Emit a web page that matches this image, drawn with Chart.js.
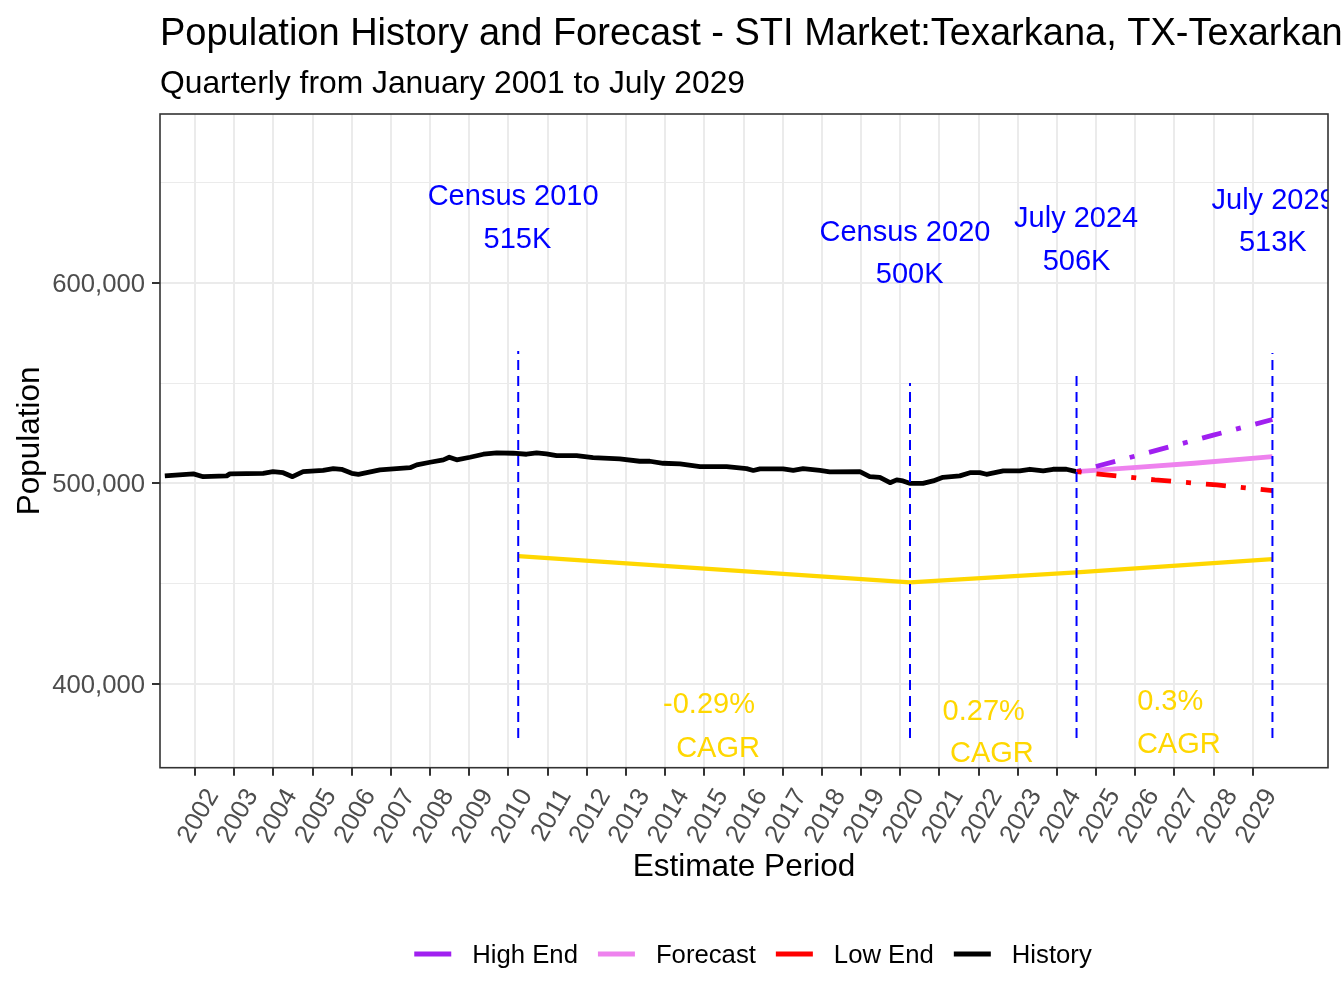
<!DOCTYPE html>
<html>
<head>
<meta charset="utf-8">
<title>Population History and Forecast</title>
<script src="https://cdn.jsdelivr.net/npm/chart.js@4.4.1/dist/chart.umd.min.js"></script>
<style>
  html, body { margin: 0; padding: 0; background: #ffffff; }
  #wrap { width: 1344px; height: 1008px; position: relative; }
</style>
</head>
<body>
<div id="wrap"><canvas id="chart"></canvas></div>
<script>
const titleText = "Population History and Forecast - STI Market:Texarkana, TX-Texarkana, AR";
const subtitleText = "Quarterly from January 2001 to July 2029";
const xAxisTitle = "Estimate Period";
const yAxisTitle = "Population";

// history (decimal year, persons)
const historyYears = [
    2001.23, 2001.96, 2002.21, 2002.81, 2002.89, 2003.74, 2003.99, 2004.25, 2004.49, 2004.76,
    2005.27, 2005.53, 2005.74, 2006.00, 2006.17, 2006.72, 2007.06, 2007.49, 2007.66, 2008.00,
    2008.34, 2008.49, 2008.68, 2009.02, 2009.36, 2009.70, 2010.12, 2010.46, 2010.72, 2010.97,
    2011.23, 2011.74, 2012.16, 2012.84, 2013.35, 2013.61, 2013.95, 2014.38, 2014.89, 2015.57,
    2016.08, 2016.25, 2016.42, 2017.01, 2017.27, 2017.52, 2017.95, 2018.20, 2018.97, 2019.22,
    2019.48, 2019.74, 2019.91, 2020.07, 2020.24, 2020.58, 2020.84, 2021.09, 2021.52, 2021.78,
    2022.03, 2022.20, 2022.63, 2023.05, 2023.31, 2023.65, 2023.90, 2024.24, 2024.50
];
const historyValues = [
    503700, 504700, 503300, 503700, 504700, 505000, 505800, 505300, 503300, 505800,
    506400, 507300, 507000, 505000, 504500, 506700, 507200, 507800, 509200, 510500,
    511700, 513000, 511700, 513000, 514500, 515200, 515000, 514500, 515200, 514700,
    513800, 513800, 512800, 512200, 511000, 511000, 510000, 509700, 508300, 508300,
    507300, 506400, 507200, 507200, 506400, 507300, 506400, 505700, 505800, 503300,
    503000, 500300, 501700, 501200, 500000, 500000, 501200, 503000, 503700, 505300,
    505300, 504500, 506200, 506200, 507000, 506200, 507000, 507000, 505800
];

const forecastYears = [2024.5, 2026.03, 2027.5, 2029.5];
const forecastValues = [505800, 507900, 510000, 513300];
const highEndYears = [2024.5, 2026.63, 2027.99, 2029.5];
const highEndValues = [505800, 516900, 524000, 531800];
const lowEndYears = [2024.5, 2026.5, 2028.08, 2029.5];
const lowEndValues = [505800, 501700, 499200, 496400];

const cagrLineYears = [2010.25, 2020.25, 2024.5, 2029.5];
const cagrLineValues = [463700, 450600, 455600, 462200];

// blue reference markers
const markerYears = [2010.25, 2020.25, 2024.5, 2029.5];
const markerTops = [566000, 550000, 556500, 565000];
const markerBottom = 373000;
const markerTitles = ["Census 2010", "Census 2020", "July 2024", "July 2029"];
const markerTitleX = [2010.12, 2020.12, 2024.49, 2029.53];
const markerTitleY = [643800, 625800, 632800, 641800];
const markerValueText = ["515K", "500K", "506K", "513K"];
const markerValueX = [2010.23, 2020.24, 2024.50, 2029.51];
const markerValueY = [622400, 604900, 611400, 620900];

// CAGR labels
const cagrText = ["-0.29%", "0.27%", "0.3%"];
const cagrTextX = [2015.12, 2022.13, 2026.89];
const cagrTextY = [390400, 386900, 391900];
const cagrWordX = [2015.35, 2022.34, 2027.11];
const cagrWordY = [368400, 366000, 370700];

const xTickYears = [2002, 2003, 2004, 2005, 2006, 2007, 2008, 2009, 2010, 2011, 2012, 2013, 2014, 2015,
    2016, 2017, 2018, 2019, 2020, 2021, 2022, 2023, 2024, 2025, 2026, 2027, 2028, 2029];
const yTickValues = [400000, 450000, 500000, 550000, 600000, 650000];
const yLabelledValues = [400000, 500000, 600000];

const legendLabels = ["High End", "Forecast", "Low End", "History"];
const legendColors = ["#A020F0", "#EE82EE", "#FF0000", "#000000"];

const FONT = '"Liberation Sans", Arial, sans-serif';

function toPoints(xs, ys) {
    return xs.map((x, i) => ({x: x, y: ys[i]}));
}

let datasets = [];
markerYears.forEach((yr, i) => {
    datasets.push({
        label: markerTitles[i],
        data: [{x: yr, y: markerBottom}, {x: yr, y: markerTops[i]}],
        borderColor: "#0000FF",
        borderWidth: 2,
        borderDash: [10, 6],
        borderCapStyle: "butt",
        pointRadius: 0
    });
});
datasets.push({
    label: "Low End",
    data: toPoints(lowEndYears, lowEndValues),
    borderColor: "#FF0000",
    borderWidth: 4.8,
    borderDash: [5, 15, 20, 15],
    borderCapStyle: "butt",
    pointRadius: 0
});
datasets.push({
    label: "High End",
    data: toPoints(highEndYears, highEndValues),
    borderColor: "#A020F0",
    borderWidth: 4.8,
    borderDash: [5, 15, 20, 15],
    borderCapStyle: "butt",
    pointRadius: 0
});
datasets.push({
    label: "Forecast",
    data: toPoints(forecastYears, forecastValues),
    borderColor: "#EE82EE",
    borderWidth: 4.8,
    pointRadius: 0
});
datasets.push({
    label: "CAGR",
    data: toPoints(cagrLineYears, cagrLineValues),
    borderColor: "#FFD700",
    borderWidth: 4.3,
    pointRadius: 0
});
datasets.push({
    label: "History",
    data: toPoints(historyYears, historyValues),
    borderColor: "#000000",
    borderWidth: 4.8,
    borderJoinStyle: "round",
    pointRadius: 0
});

// texts inside the panel, the panel border, titles and legend
const decorations = {
    id: "decorations",
    afterDatasetsDraw(chart) {
        const {ctx, chartArea, scales} = chart;
        const x = scales.x, y = scales.y;
        const dy = 2; // canvas "middle" sits a little high compared with R
        ctx.save();
        ctx.beginPath();
        ctx.rect(chartArea.left, chartArea.top, chartArea.right - chartArea.left, chartArea.bottom - chartArea.top);
        ctx.clip();
        ctx.font = "29px " + FONT;
        ctx.textAlign = "center";
        ctx.textBaseline = "middle";
        ctx.fillStyle = "#0000FF";
        markerTitles.forEach((t, i) => {
            ctx.fillText(t, x.getPixelForValue(markerTitleX[i]), y.getPixelForValue(markerTitleY[i]) + dy);
            ctx.fillText(markerValueText[i], x.getPixelForValue(markerValueX[i]), y.getPixelForValue(markerValueY[i]) + dy);
        });
        ctx.fillStyle = "#FFD700";
        cagrText.forEach((t, i) => {
            ctx.fillText(t, x.getPixelForValue(cagrTextX[i]), y.getPixelForValue(cagrTextY[i]) + dy);
            ctx.fillText("CAGR", x.getPixelForValue(cagrWordX[i]), y.getPixelForValue(cagrWordY[i]) + dy);
        });
        ctx.restore();
    },
    afterDraw(chart) {
        const {ctx, chartArea} = chart;
        ctx.save();
        ctx.strokeStyle = "#333333";
        ctx.lineWidth = 1.6;
        ctx.strokeRect(chartArea.left, chartArea.top, chartArea.right - chartArea.left, chartArea.bottom - chartArea.top);

        ctx.fillStyle = "#000000";
        ctx.textAlign = "left";
        ctx.textBaseline = "alphabetic";
        ctx.font = "38px " + FONT;
        ctx.fillText(titleText, 160, 44.5);
        ctx.font = "31.8px " + FONT;
        ctx.fillText(subtitleText, 160, 92.5);

        // legend
        ctx.font = "25.7px " + FONT;
        const swatch = 37, gapText = 21, gapItem = 20;
        let total = 0;
        legendLabels.forEach((l, i) => {
            total += swatch + gapText + ctx.measureText(l).width;
            if (i < legendLabels.length - 1) total += gapItem;
        });
        let lx = 753 - total / 2;
        const ly = 954;
        ctx.textBaseline = "middle";
        legendLabels.forEach((l, i) => {
            ctx.strokeStyle = legendColors[i];
            ctx.lineWidth = 5;
            ctx.beginPath();
            ctx.moveTo(lx, ly);
            ctx.lineTo(lx + swatch, ly);
            ctx.stroke();
            lx += swatch + gapText;
            ctx.fillStyle = "#000000";
            ctx.fillText(l, lx, ly + 2);
            lx += ctx.measureText(l).width + gapItem;
        });
        ctx.restore();
    }
};

new Chart(document.getElementById("chart"), {
    type: "line",
    data: {datasets: datasets},
    options: {
        responsive: true,
        maintainAspectRatio: false,
        animation: false,
        layout: {padding: {top: 114, right: 16, left: 0, bottom: 0}},
        plugins: {
            legend: {display: false},
            tooltip: {enabled: false},
            title: {display: false}
        },
        scales: {
            x: {
                type: "linear",
                min: 2001.107,
                max: 2030.918,
                afterBuildTicks: scale => {
                    scale.ticks = xTickYears.map(v => ({value: v}));
                },
                afterFit: scale => {
                    scale.height = 1008 - 767.7;
                },
                border: {display: false},
                grid: {
                    color: "#EBEBEB",
                    lineWidth: 2,
                    tickColor: "#333333",
                    tickLength: 8,
                    tickWidth: 2
                },
                ticks: {
                    autoSkip: false,
                    minRotation: 60,
                    maxRotation: 60,
                    padding: 8,
                    labelOffset: 18,
                    color: "#4D4D4D",
                    font: {family: FONT, size: 25.7},
                    callback: v => String(v)
                },
                title: {
                    display: true,
                    text: xAxisTitle,
                    color: "#000000",
                    font: {family: FONT, size: 31.5},
                    padding: {top: 4, bottom: 121.4}
                }
            },
            y: {
                type: "linear",
                min: 358150,
                max: 684200,
                afterBuildTicks: scale => {
                    scale.ticks = yTickValues.map(v => ({value: v}));
                },
                afterFit: scale => {
                    scale.width = 160;
                },
                border: {display: false},
                grid: {
                    color: "#EBEBEB",
                    lineWidth: ctx => yLabelledValues.includes(ctx.tick.value) ? 2 : 1.1,
                    tickColor: ctx => yLabelledValues.includes(ctx.tick.value) ? "#333333" : "rgba(0,0,0,0)",
                    tickLength: 8,
                    tickWidth: 2
                },
                ticks: {
                    padding: 7,
                    labelOffset: 2,
                    color: "#4D4D4D",
                    font: {family: FONT, size: 25.7},
                    callback: v => yLabelledValues.includes(v) ? v.toLocaleString("en-US") : ""
                },
                title: {
                    display: true,
                    text: yAxisTitle,
                    color: "#000000",
                    font: {family: FONT, size: 31.5},
                    padding: {top: 11.4, bottom: 4}
                }
            }
        }
    },
    plugins: [decorations]
});
</script>
</body>
</html>
